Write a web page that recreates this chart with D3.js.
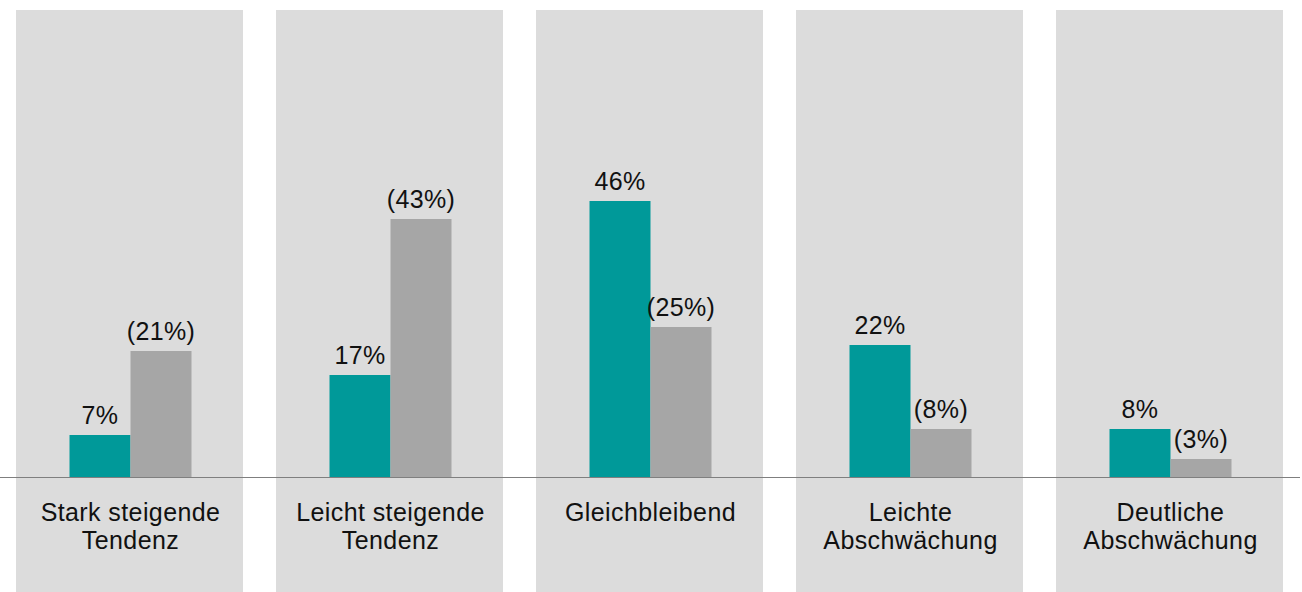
<!DOCTYPE html>
<html>
<head>
<meta charset="utf-8">
<script src="https://cdn.jsdelivr.net/npm/d3@7"></script>
<style>
  html, body { margin: 0; padding: 0; background: #fff; }
  svg { display: block; }
  text { font-family: "Liberation Sans", Arial, Helvetica, sans-serif; fill: #111; }
</style>
</head>
<body>
<svg id="chart" width="1302" height="592"></svg>
<script>
// Kategorien und Werte
var categories = [
  ['Stark steigende', 'Tendenz'],
  ['Leicht steigende', 'Tendenz'],
  ['Gleichbleibend'],
  ['Leichte', 'Abschwächung'],
  ['Deutliche', 'Abschwächung']
]
var series = ['aktuell', 'vorher']
var current = [7, 17, 46, 22, 8]
var previous = [21, 43, 25, 8, 3]
var labelsCurrent = ['7%', '17%', '46%', '22%', '8%']
var labelsPrevious = ['(21%)', '(43%)', '(25%)', '(8%)', '(3%)']

var colorPanel = '#dcdcdc'
var colorCurrent = '#009999'
var colorPrevious = '#a6a6a6'
var colorAxis = '#7f7f7f'

var width = 1302
var height = 592
var baseline = 477

var svg = d3.select('#chart')

var x = d3.scaleBand()
  .domain(d3.range(categories.length))
  .range([16, 1283])
  .paddingInner(33 / 260)
  .paddingOuter(0)

var y = d3.scaleLinear()
  .domain([0, 46])
  .range([baseline, 201])

var xs = d3.scaleBand()
  .domain(series)
  .range([-60, 62])

// Hintergrundflächen
svg.selectAll('rect.panel')
  .data(categories)
  .enter().append('rect')
  .attr('class', 'panel')
  .attr('x', function(d, i) { return x(i) })
  .attr('y', 10)
  .attr('width', x.bandwidth())
  .attr('height', height - 10)
  .attr('fill', colorPanel)

var rows = categories.map(function(c, i) {
  return [
    { i: i, s: series[0], v: current[i], label: labelsCurrent[i], color: colorCurrent },
    { i: i, s: series[1], v: previous[i], label: labelsPrevious[i], color: colorPrevious }
  ]
})

var groups = svg.selectAll('g.group')
  .data(rows)
  .enter().append('g')
  .attr('class', 'group')
  .attr('transform', function(d, i) { return 'translate(' + (x(i) + x.bandwidth() / 2) + ',0)' })

groups.selectAll('rect.bar')
  .data(function(d) { return d })
  .enter().append('rect')
  .attr('class', 'bar')
  .attr('x', function(d) { return xs(d.s) })
  .attr('y', function(d) { return y(d.v) })
  .attr('width', xs.bandwidth())
  .attr('height', function(d) { return baseline - y(d.v) })
  .attr('fill', function(d) { return d.color })

groups.selectAll('text.value')
  .data(function(d) { return d })
  .enter().append('text')
  .attr('class', 'value')
  .attr('x', function(d) { return xs(d.s) + xs.bandwidth() / 2 })
  .attr('y', function(d) { return y(d.v) - 11 })
  .attr('text-anchor', 'middle')
  .style('font-size', '25px')
  .style('letter-spacing', '0.4px')
  .text(function(d) { return d.label })

// Achse
svg.append('line')
  .attr('x1', 0)
  .attr('x2', 1300)
  .attr('y1', baseline + 0.5)
  .attr('y2', baseline + 0.5)
  .attr('stroke', colorAxis)
  .attr('stroke-width', 1)

// Kategorienbeschriftung
svg.selectAll('text.cat')
  .data(categories)
  .enter().append('text')
  .attr('class', 'cat')
  .attr('text-anchor', 'middle')
  .style('font-size', '25px')
  .style('letter-spacing', '0.4px')
  .attr('transform', function(d, i) { return 'translate(' + (x(i) + x.bandwidth() / 2 + 1) + ',0)' })
  .selectAll('tspan')
  .data(function(d) { return d })
  .enter().append('tspan')
  .attr('x', 0)
  .attr('y', function(d, j) { return 521 + j * 28 })
  .text(function(d) { return d })
</script>
</body>
</html>
